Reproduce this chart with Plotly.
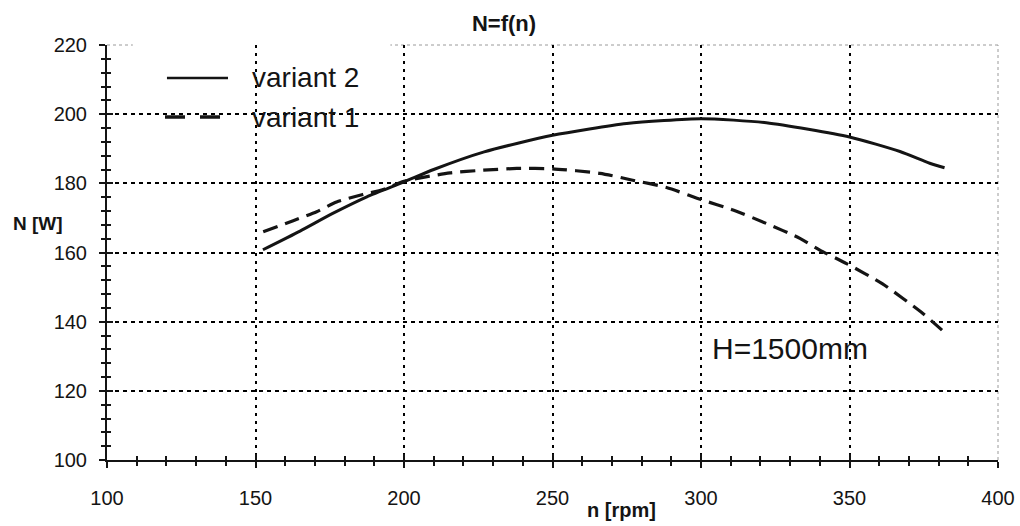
import plotly.graph_objects as go

# ---- data ----
n_v2 = [152.5, 165, 176, 187.5, 200, 210, 227, 250, 275, 300, 322, 350, 367, 377, 382]
N_v2 = [160.8, 166.2, 171.3, 176.1, 180.4, 184.0, 189.1, 193.9, 197.3, 198.7, 197.5, 193.4, 189.2, 185.8, 184.5]

n_v1 = [152.6, 162.7, 170.6, 177.3, 186.3, 193, 200, 215.5, 226.7, 238, 250, 266, 277, 288.4,
        300, 310.8, 322, 333.3, 340, 349, 361, 374.8, 382]
N_v1 = [166.0, 169.2, 171.8, 174.6, 176.8, 178.2, 180.6, 183.0, 183.8, 184.3, 184.2, 182.9, 180.9, 178.8,
        175.3, 172.3, 168.4, 164.1, 160.7, 156.8, 151.0, 142.3, 136.9]

series_names = ["variant 2", "variant 1"]
x_ticks = [100, 150, 200, 250, 300, 350, 400]
y_ticks = [100, 120, 140, 160, 180, 200, 220]

FONT = "Liberation Sans, Arial, sans-serif"
INK = "#141414"

fig = go.Figure()
fig.add_trace(go.Scatter(x=n_v2, y=N_v2, name=series_names[0], mode="lines",
                         line=dict(color=INK, width=3, shape="spline", smoothing=0.6),
                         showlegend=False))
fig.add_trace(go.Scatter(x=n_v1, y=N_v1, name=series_names[1], mode="lines",
                         line=dict(color=INK, width=3.2, dash="15px,8px", shape="spline", smoothing=0.6),
                         showlegend=False))
# invisible trace to activate the overlay axes that draw the inner half of the ticks
fig.add_trace(go.Scatter(x=n_v2, y=N_v2, xaxis="x2", yaxis="y2", mode="lines",
                         line=dict(width=0), opacity=0, hoverinfo="skip", showlegend=False))

axis_common = dict(showline=True, linecolor=INK, linewidth=2, tickcolor=INK, tickwidth=1.5,
                   ticks="outside", ticklen=6, gridcolor="#000000", gridwidth=1.5, zeroline=False,
                   automargin=False,
                   tickfont=dict(family=FONT, size=20, color=INK))

fig.update_layout(
    width=1020, height=526, autosize=False,
    margin=dict(l=107, r=22, t=45, b=66),
    paper_bgcolor="white", plot_bgcolor="white",
    title=dict(text="<b>N=f(n)</b>", x=504 / 1020, xanchor="center", xref="container",
               y=1 - 23 / 526, yanchor="middle", yref="container",
               font=dict(family=FONT, size=22, color=INK), automargin=False),
    xaxis=dict(range=[100, 400], tickvals=x_ticks, griddash="3px,5px",
               ticklabelstandoff=13,
               minor=dict(ticks="outside", ticklen=4, dtick=10, tick0=100, tickcolor=INK,
                          tickwidth=1.5, showgrid=False),
               **axis_common),
    yaxis=dict(range=[100, 220], tickvals=y_ticks, griddash="4px,4px",
               ticklabelstandoff=8,
               minor=dict(ticks="outside", ticklen=4, dtick=4, tick0=100, tickcolor=INK,
                          tickwidth=1.5, showgrid=False),
               **axis_common),
    xaxis2=dict(range=[100, 400], overlaying="x", anchor="y2", tickvals=x_ticks, ticks="inside",
                ticklen=6, tickcolor=INK, tickwidth=1.5, showticklabels=False, showgrid=False,
                showline=False, zeroline=False, automargin=False,
                minor=dict(ticks="inside", ticklen=4, dtick=10, tick0=100, tickcolor=INK,
                           tickwidth=1.5, showgrid=False)),
    yaxis2=dict(range=[100, 220], overlaying="y", anchor="x2", tickvals=y_ticks, ticks="inside",
                ticklen=6, tickcolor=INK, tickwidth=1.5, showticklabels=False, showgrid=False,
                showline=False, zeroline=False, automargin=False,
                minor=dict(ticks="inside", ticklen=4, dtick=4, tick0=100, tickcolor=INK,
                           tickwidth=1.5, showgrid=False)),
)

shapes = []
# white out gridlines lying on the top / right edges, then draw faint dotted border
shapes.append(dict(type="line", xref="paper", yref="paper", x0=0, x1=1, y0=1, y1=1,
                   line=dict(color="white", width=4), layer="between"))
shapes.append(dict(type="line", xref="paper", yref="paper", x0=1, x1=1, y0=0, y1=1,
                   line=dict(color="white", width=4), layer="between"))
shapes.append(dict(type="line", xref="paper", yref="paper", x0=0, x1=1, y0=1, y1=1,
                   line=dict(color="#9a9a9a", width=1, dash="dot"), layer="between"))
shapes.append(dict(type="line", xref="paper", yref="paper", x0=1, x1=1, y0=0, y1=1,
                   line=dict(color="#9a9a9a", width=1, dash="dot"), layer="between"))
# legend box (white, no border)
shapes.append(dict(type="rect", xref="paper", yref="paper", x0=0.029, x1=0.318, y0=0.771, y1=1.01,
                   fillcolor="white", line=dict(width=0), layer="between"))
# legend samples
shapes.append(dict(type="line", xref="paper", yref="paper", x0=0.0673, x1=0.1358, y0=0.9205, y1=0.9205,
                   line=dict(color=INK, width=2.5), layer="above"))
shapes.append(dict(type="line", xref="paper", yref="paper", x0=0.0651, x1=0.1302, y0=0.8265, y1=0.8265,
                   line=dict(color=INK, width=3.5, dash="20px,15px"), layer="above"))
fig.update_layout(shapes=shapes)

annotations = [
    dict(text=series_names[0], xref="paper", yref="paper", x=0.1605, y=0.9205,
         xanchor="left", yanchor="middle", showarrow=False,
         font=dict(family=FONT, size=28, color=INK)),
    dict(text=series_names[1], xref="paper", yref="paper", x=0.1605, y=0.8265,
         xanchor="left", yanchor="middle", showarrow=False,
         font=dict(family=FONT, size=28, color=INK)),
    dict(text="H=1500mm", xref="x", yref="y", x=303, y=132.1,
         xanchor="left", yanchor="middle", showarrow=False,
         font=dict(family=FONT, size=30, color=INK)),
    dict(text="<b>n [rpm]</b>", xref="paper", yref="paper", x=0.578, y=-0.1205,
         xanchor="center", yanchor="middle", showarrow=False,
         font=dict(family=FONT, size=20, color=INK)),
    dict(text="<b>N [W]</b>", xref="paper", yref="paper", x=-0.078, y=0.571,
         xanchor="center", yanchor="middle", showarrow=False,
         font=dict(family=FONT, size=19, color=INK)),
]
fig.update_layout(annotations=annotations)

fig.write_html("out.html")
